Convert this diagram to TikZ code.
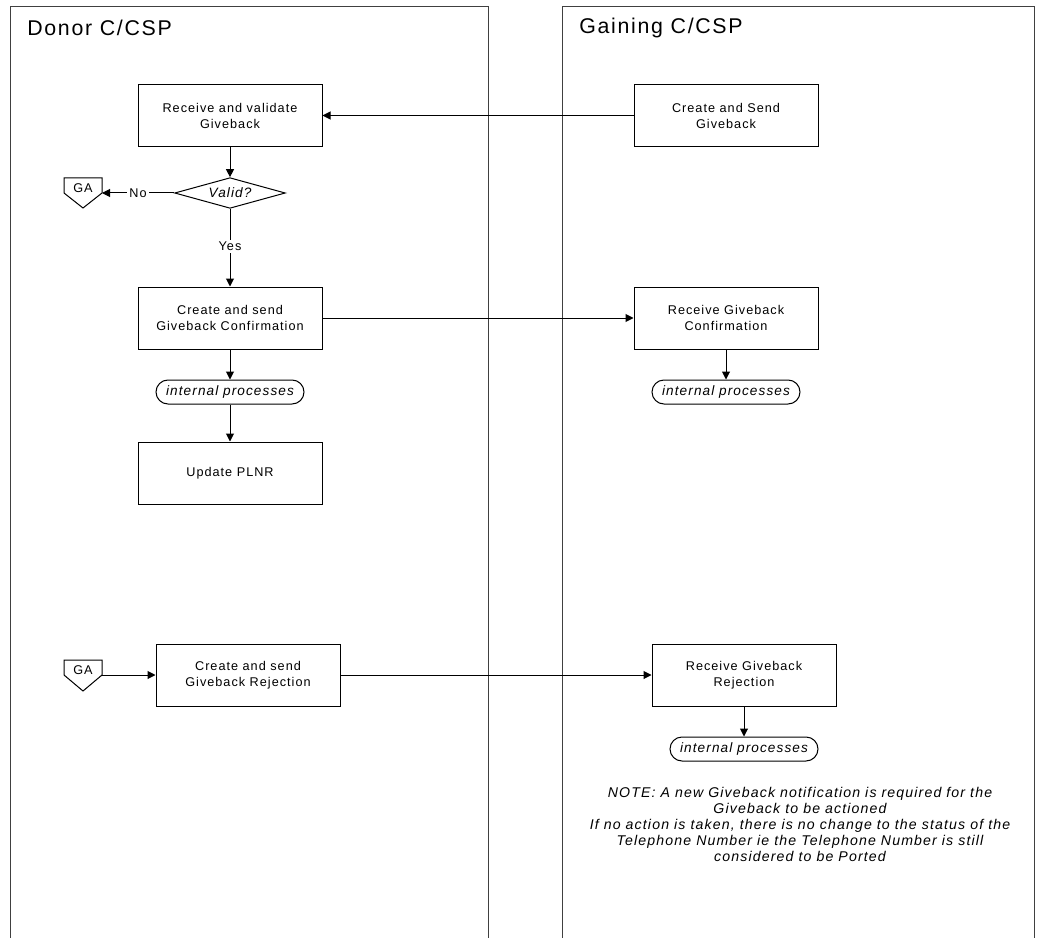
\documentclass[tikz,border=0pt]{standalone}
\usepackage{fontspec}
\setmainfont{Liberation Sans}[LetterSpace=8]
\usetikzlibrary{arrows.meta,shapes.geometric}
\tikzset{
  lane/.style={line width=0.75pt, draw=black!75},
  box/.style={draw, line width=0.75pt, rectangle, minimum width=138pt, minimum height=46.5pt, inner sep=0pt, align=center, font=\fontsize{9.5}{12}\selectfont},
  term/.style={draw, line width=0.75pt, rectangle, rounded corners=9pt, minimum width=111pt, minimum height=18pt, inner sep=0pt, font=\fontsize{10.2}{12}\selectfont\itshape},
  arr/.style={line width=0.75pt, -{Triangle[length=6pt,width=6pt]}},
  conn/.style={line width=0.75pt},
  lbl/.style={fill=white, inner sep=1.5pt, font=\fontsize{9.5}{12}\selectfont},
  hdr/.style={anchor=west, inner sep=0pt, font=\fontsize{16}{18}\selectfont},
}
\begin{document}
\begin{tikzpicture}[x=0.75pt,y=-0.75pt]
\useasboundingbox (0,0) rectangle (1039,938);
% lanes
\draw[lane] (10,938) -- (10,7) -- (488,7) -- (488,938);
\draw[lane] (562,938) -- (562,7) -- (1034,7) -- (1034,938);
\node[hdr] (hdonor) at (27,28) {Donor C/CSP};
\node[hdr] (hgain) at (579,28) {Gaining C/CSP};
% boxes
\node[box] (rv) at (230,115.5) {Receive and validate\\Giveback};
\node[box] (cs) at (726,115.5) {Create and Send\\Giveback};
\node[draw, line width=0.75pt, diamond, shape aspect=3.7, minimum width=83pt, minimum height=23pt, inner sep=0pt, font=\fontsize{10.2}{12}\selectfont\itshape] (valid) at (230,193) {Valid?};
\node[box] (csc) at (230,318) {Create and send\\Giveback Confirmation};
\node[box] (rgc) at (726,318) {Receive Giveback\\Confirmation};
\node[term] (ip1) at (230,392) {internal processes};
\node[term] (ip2) at (726,392) {internal processes};
\node[box] (upd) at (230,473) {Update PLNR};
\node[box] (csr) at (248,675) {Create and send\\Giveback Rejection};
\node[box] (rgr) at (744,675) {Receive Giveback\\Rejection};
\node[term] (ip3) at (744,749) {internal processes};
% off-page connectors GA
\draw[conn] (64,178) -- (102,178) -- (102,193) -- (83,208) -- (64,193) -- cycle;
\node[font=\fontsize{9.5}{12}\selectfont] (ga1) at (83,188) {GA};
\coordinate (ga1c) at (102,193);
\draw[conn] (64,660) -- (102,660) -- (102,675) -- (83,691) -- (64,675) -- cycle;
\node[font=\fontsize{9.5}{12}\selectfont] (ga2) at (83,670) {GA};
\coordinate (ga2c) at (102,675);
% note
\node[align=center, inner sep=0pt, font=\fontsize{10.6}{12}\selectfont\itshape] (note) at (800,824)
 {NOTE: A new Giveback notification is required for the\\Giveback to be actioned\\If no action is taken, there is no change to the status of the\\Telephone Number ie the Telephone Number is still\\considered to be Ported};
% connectors
\draw[arr] (cs.west) -- (rv.east);
\draw[arr] (rv.south) -- (valid.north);
\draw[arr] (valid.west) -- node[lbl, pos=0.5] {No} (ga1c);
\draw[arr] (valid.south) -- node[lbl, pos=0.48] {Yes} (csc.north);
\draw[arr] (csc.east) -- (rgc.west);
\draw[arr] (csc.south) -- (ip1.north);
\draw[arr] (ip1.south) -- (upd.north);
\draw[arr] (rgc.south) -- (ip2.north);
\draw[arr] (ga2c) -- (csr.west);
\draw[arr] (csr.east) -- (rgr.west);
\draw[arr] (rgr.south) -- (ip3.north);
\end{tikzpicture}
\end{document}
